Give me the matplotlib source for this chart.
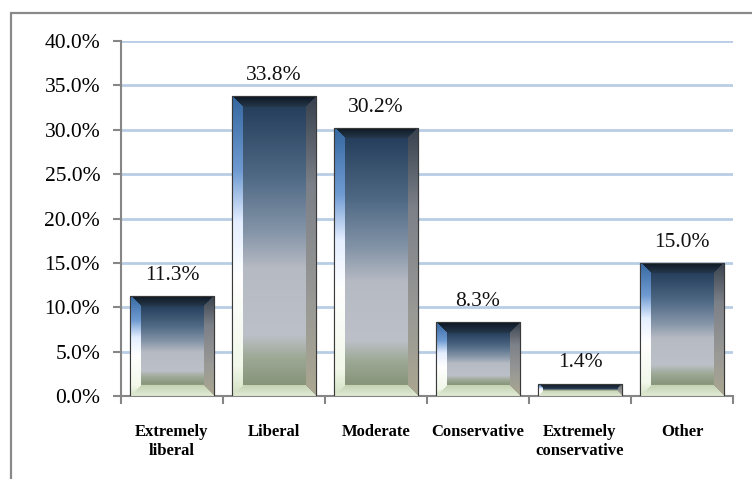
import matplotlib
matplotlib.use("Agg")
import matplotlib.pyplot as plt
import numpy as np
from matplotlib.patches import Rectangle
from matplotlib.ticker import FuncFormatter

categories = ["Extremely\nliberal", "Liberal", "Moderate", "Conservative",
              "Extremely\nconservative", "Other"]
values = [11.3, 33.8, 30.2, 8.3, 1.4, 15.0]
yticks = [0, 5, 10, 15, 20, 25, 30, 35, 40]

W, H, DPI = 752, 479, 100
L, R, T, B = 121, 733, 41, 396   # axes box in pixels
BAR_W = 0.83
BEVEL_PX = 11


def hex2rgb(h):
    h = h.lstrip("#")
    return np.array([int(h[i:i + 2], 16) / 255 for i in (0, 2, 4)])


def grad(stops, t):
    pos = np.array([s[0] for s in stops])
    cols = np.array([hex2rgb(s[1]) for s in stops])
    out = np.zeros(t.shape + (3,))
    for c in range(3):
        out[..., c] = np.interp(t, pos, cols[:, c])
    return out


face_stops = [(0, "#253f5c"), (0.25, "#4f6985"), (0.45, "#8595a8"), (0.58, "#b6bac3"),
              (0.82, "#bcc0c8"), (0.9, "#9ea996"), (1.0, "#86947a")]
left_stops = [(0, "#35679f"), (0.25, "#6f9bd2"), (0.42, "#e4eeff"), (0.6, "#ffffff"),
              (0.9, "#f2f8ea"), (1.0, "#d2e0c2")]
right_stops = [(0, "#36404c"), (0.3, "#7c8088"), (0.7, "#9a9a96"), (1.0, "#aaa690")]
top_stops = [(0, "#0c1620"), (1, "#26384c")]
bot_stops = [(0, "#c4d2b2"), (1, "#e2ecd6")]


def bevel_image(w, h, bev):
    w = max(int(round(w)), 2)
    h = max(int(round(h)), 2)
    bev = min(bev, h / 2.2, w / 2.2)
    ys, xs = np.mgrid[0:h, 0:w] + 0.5
    dl, dr, dt, db = xs, w - xs, ys, h - ys
    t = ys / h
    tf = np.clip((ys - bev) / max(h - 2 * bev, 1), 0, 1)
    img = grad(face_stops, tf)
    m = np.minimum(np.minimum(dl, dr), np.minimum(dt, db))
    edge = m < bev
    s = np.clip(m / bev, 0, 1)
    left = edge & (dl == m)
    right = edge & (dr == m) & ~left
    top = edge & (dt == m) & ~left & ~right
    bot = edge & ~left & ~right & ~top
    img[left] = grad(left_stops, t)[left]
    img[right] = grad(right_stops, t)[right]
    img[top] = grad(top_stops, s)[top]
    img[bot] = grad(bot_stops, 1 - s)[bot]
    return img


fig = plt.figure(figsize=(W / DPI, H / DPI), dpi=DPI)
ax = fig.add_axes([L / W, 1 - B / H, (R - L) / W, (B - T) / H])

# outer chart frame (runs off the right and bottom of the picture)
fig.patches.append(Rectangle((11 / W, -0.2), 1.2, 1 - 13 / H + 0.2, transform=fig.transFigure,
                             fill=False, edgecolor="#898989", linewidth=1.6, zorder=0))

x = np.arange(len(categories))
px_per_x = (R - L) / len(categories)
px_per_y = (B - T) / 40

bars = ax.bar(x, values, width=BAR_W, color="#8a98a8", edgecolor="#3a3a3a",
              linewidth=0.8, zorder=3)
for b, v in zip(bars, values):
    img = bevel_image(BAR_W * px_per_x, v * px_per_y, BEVEL_PX)
    x0 = b.get_x()
    im = ax.imshow(img, extent=[x0, x0 + b.get_width(), 0, v], aspect="auto",
                   interpolation="bilinear", zorder=3.5)
    im.set_clip_path(b)
    ax.add_patch(Rectangle((x0, 0), b.get_width(), v, fill=False,
                           edgecolor="#3a3a3a", linewidth=0.8, zorder=4))
    ax.annotate(f"{v:.1f}%", (b.get_x() + b.get_width() / 2, v), xytext=(0, 8),
                textcoords="offset points", ha="center", va="bottom",
                fontsize=15.5, family="Liberation Serif", color="#111111")

ax.set_xlim(-0.5, len(categories) - 0.5)
ax.set_ylim(0, 40)

ax.set_yticks(yticks)
ax.yaxis.set_major_formatter(FuncFormatter(lambda v, p: f"{v:.1f}%"))
ax.grid(axis="y", color="#b9cde5", linewidth=2)
ax.set_axisbelow(True)

ax.set_xticks(np.arange(-0.5, len(categories) + 0.5, 1))
ax.set_xticklabels([])
ax.set_xticks(x, minor=True)
ax.set_xticklabels(categories, minor=True, fontsize=12, fontweight="bold",
                   family="Liberation Serif", linespacing=1.3)
ax.tick_params(axis="x", which="minor", length=0, pad=20)
ax.tick_params(axis="x", which="major", length=6, width=1.5, color="#868686")
ax.tick_params(axis="y", length=6, width=1.5, color="#868686", pad=9)
for lab in ax.get_yticklabels():
    lab.set_family("Liberation Serif")
    lab.set_fontsize(15.5)

for side in ("top", "right"):
    ax.spines[side].set_visible(False)
for side in ("left", "bottom"):
    ax.spines[side].set_color("#868686")
    ax.spines[side].set_linewidth(1.5)

fig.savefig("out.png", dpi=DPI)
